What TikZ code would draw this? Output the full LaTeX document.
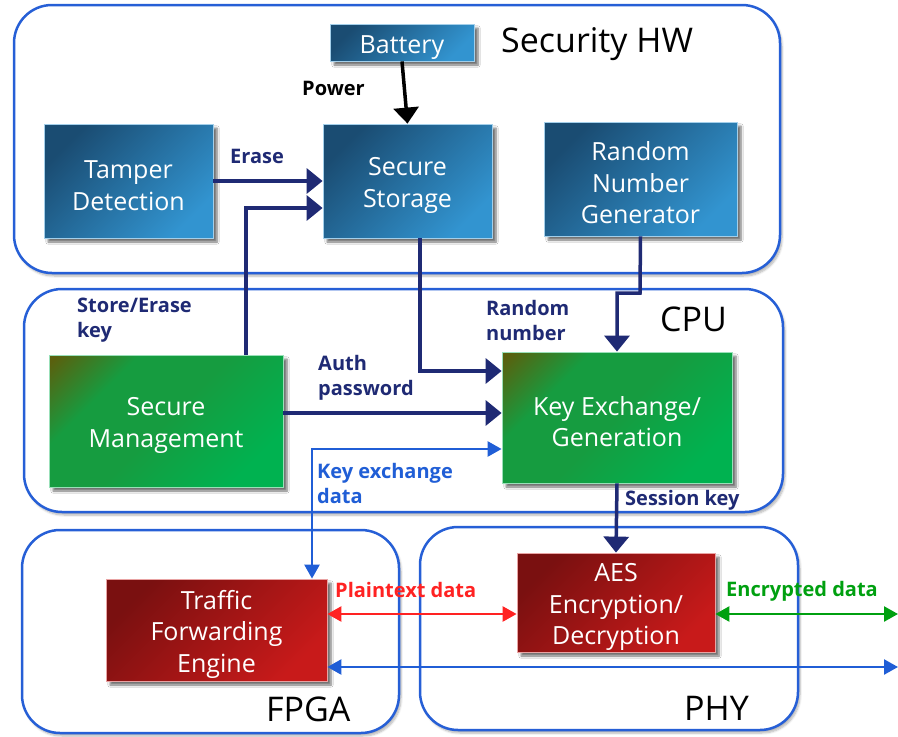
\documentclass[tikz,border=0pt]{standalone}
\usepackage{fontspec}
\setmainfont{Open Sans}
\usetikzlibrary{arrows.meta,shadows.blur}

\definecolor{navy}{RGB}{31,42,116}
\definecolor{frameblue}{RGB}{38,95,214}
\definecolor{linkblue}{RGB}{32,94,214}
\definecolor{plainred}{RGB}{255,34,34}
\definecolor{encgreen}{RGB}{0,160,16}
\definecolor{hwdark}{RGB}{26,76,114}
\definecolor{hwlight}{RGB}{50,148,208}
\definecolor{cpudark}{RGB}{90,96,14}
\definecolor{cpumid}{RGB}{22,156,64}
\definecolor{cpulight}{RGB}{0,178,80}
\definecolor{iodark}{RGB}{122,16,16}
\definecolor{iolight}{RGB}{200,26,26}

% green fill: olive only near one corner, green elsewhere
\pgfdeclareverticalshading{cpushade}{100bp}{color(0bp)=(cpulight); color(25bp)=(cpulight); color(50bp)=(cpumid); color(68bp)=(cpumid); color(84bp)=(cpudark); color(100bp)=(cpudark)}

\newcommand{\boxfont}{\fontsize{25}{31.5}\selectfont}
\newcommand{\tagfont}{\fontsize{20}{25}\selectfont\bfseries}
\newcommand{\titlefont}{\fontsize{34}{40}\selectfont}
% taller first line, so block captions sit a little lower
\newcommand{\topstrut}{\rule{0pt}{27pt}}

\tikzset{
  frame/.style={draw=frameblue, line width=2.5pt, fill=white, rounded corners=38pt,
    blur shadow={shadow xshift=2pt, shadow yshift=-3pt, shadow opacity=30, shadow blur steps=6}},
  block/.style={line width=0.8pt, text=white, font=\boxfont, align=center, inner sep=0pt,
    blur shadow={shadow xshift=4pt, shadow yshift=-4pt, shadow opacity=55, shadow blur steps=6}},
  hwblock/.style={block, draw=hwlight!45!white, top color=hwdark, bottom color=hwlight, shading angle=45},
  cpublock/.style={block, draw=cpulight!40!white, shading=cpushade, shading angle=45},
  ioblock/.style={block, draw=iolight!40!white, top color=iodark, bottom color=iolight, shading angle=45},
  tag/.style={font=\tagfont, inner sep=0pt, align=left},
  title/.style={font=\titlefont, inner sep=0pt, anchor=west},
  bus/.style={draw=navy, line width=3.5pt, -{Triangle[width=25pt,length=16pt]}},
  powerbus/.style={bus, draw=black},
  thinlink/.style={line width=2.5pt, {Triangle[width=15pt,length=14pt]}-{Triangle[width=15pt,length=14pt]}},
}

\begin{document}
\begin{tikzpicture}[x=1pt,y=-1pt]
\useasboundingbox (0,0) rectangle (898,737);

% enclosing units
\draw[frame] (14,5) rectangle (780,273);
\draw[frame] (24,289) rectangle (783,512);
\draw[frame] (22,530) rectangle (399,733);
\draw[frame] (420,527) rectangle (798,730);

\node[title] (hwtitle) at (501,44) {Security HW};
\node[title] (cputitle) at (660,319) {CPU};
\node[title] (fpgatitle) at (266,709) {FPGA};
\node[title] (phytitle) at (684,708) {PHY};

% functional blocks
\node[hwblock, minimum width=144pt, minimum height=37pt] (battery) at (402,42.5) {\topstrut Battery};
\node[hwblock, minimum width=169pt, minimum height=114pt] (tamper) at (128.5,181) {\topstrut Tamper\\Detection};
\node[hwblock, minimum width=169pt, minimum height=114pt] (storage) at (407.5,181) {\topstrut Secure\\Storage};
\node[hwblock, minimum width=193pt, minimum height=114pt] (rng) at (640.5,179) {\topstrut Random\\Number\\Generator};
\node[cpublock, minimum width=234pt, minimum height=132pt] (mgmt) at (166,421) {\topstrut Secure\\Management};
\node[cpublock, minimum width=230pt, minimum height=131pt] (keyex) at (617,417.5) {\topstrut Key Exchange/\\Generation};
\node[ioblock, minimum width=221pt, minimum height=102pt] (tfe) at (216.5,630) {\topstrut Traffic\\Forwarding\\Engine};
\node[ioblock, minimum width=198pt, minimum height=99pt] (aes) at (616,602.5) {\topstrut AES\\Encryption/\\Decryption};

% free ends at the right border
\coordinate (encout) at (898,614);
\coordinate (rawout) at (898,667);

% connectors
\draw[powerbus] (battery.south) -- (storage.north);
\draw[bus] (tamper.east |- 0,181) -- (storage.west |- 0,181);
\draw[bus] (mgmt.north -| 246,0) -- (246,208) -- (storage.west |- 0,208);
\draw[bus] (storage.south -| 420,0) -- (420,371) -- (keyex.west |- 0,371);
\draw[bus] (rng.south) -- (640,293) -- (617,293) -- (keyex.north);
\draw[bus] (mgmt.east |- 0,413) -- (keyex.west |- 0,413);
\draw[bus] (keyex.south) -- (aes.north);
\draw[thinlink, draw=linkblue] (keyex.west |- 0,449) -- (312,449) -- (tfe.north -| 312,0);
\draw[thinlink, draw=plainred] (tfe.east |- 0,614) -- (aes.west |- 0,614);
\draw[thinlink, draw=encgreen] (aes.east |- 0,614) -- (encout);
\draw[thinlink, draw=linkblue] (tfe.east |- 0,667) -- (rawout);

% connector labels
\node[tag, anchor=east] (powertag) at (365,88) {Power};
\node[tag, anchor=west, text=navy] (erasetag) at (230,156) {Erase};
\node[tag, anchor=west, text=navy] (storetag) at (77,320) {Store/Erase\\key};
\node[tag, anchor=west, text=navy] (randtag) at (486,320) {Random\\number};
\node[tag, anchor=west, text=navy] (authtag) at (318,378) {Auth\\password};
\node[tag, anchor=west, text=linkblue] (kxtag) at (317,483) {Key exchange\\data};
\node[tag, anchor=west, text=navy] (sesstag) at (625,500) {Session key};
\node[tag, anchor=west, text=plainred] (plaintag) at (335,590) {Plaintext data};
\node[tag, anchor=west, text=encgreen] (enctag) at (726,591) {Encrypted data};
\end{tikzpicture}
\end{document}
